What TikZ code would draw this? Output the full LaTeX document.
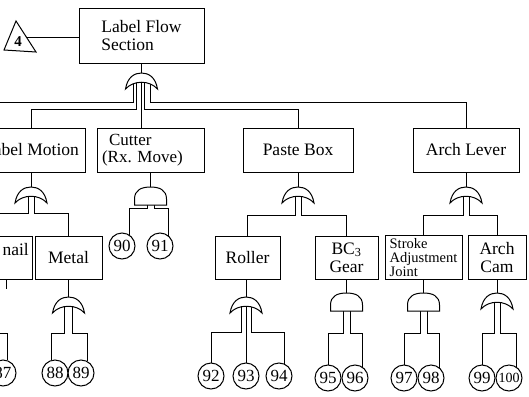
\documentclass[tikz,border=0pt]{standalone}
\usepackage{fontspec}
\setmainfont{Liberation Serif}
\usetikzlibrary{calc}
\tikzset{
  box/.style={draw, line width=1pt, inner sep=0pt, font=\fontsize{17.5}{18}\selectfont},
  ev/.style={draw, circle, minimum size=26pt, inner sep=0pt, line width=1pt, font=\fontsize{17}{17}\selectfont},
  wire/.style={line width=1pt},
  orgate/.pic={\draw[line width=1pt, fill=white] (-16,16) .. controls (-14,4) and (-7,0) .. (0,0) .. controls (7,0) and (14,4) .. (16,16) .. controls (8,7) and (-8,7) .. (-16,16) -- cycle;},
  andgate/.pic={\draw[line width=1pt, fill=white] (-16,18) -- (-16,12) .. controls (-16,3) and (-9,0) .. (0,0) .. controls (9,0) and (16,3) .. (16,12) -- (16,18) -- cycle;},
}
\begin{document}
\begin{tikzpicture}[x=1pt,y=-1pt]
\useasboundingbox (0,0) rectangle (529,396);
\clip (0,0) rectangle (529,396);

% top event
\node[box, minimum width=125pt, minimum height=54pt, align=left, font=\fontsize{17.5}{18}\selectfont] (tf) at (141.5,36) {Label Flow\\Section};
\draw[wire] (16,21) -- (36,52) -- (4,50) -- cycle;
\node[font=\bfseries\fontsize{15}{15}\selectfont] (t4) at (18,42) {4};
\coordinate (triR) at (27,38);
\draw[wire] (triR) -- (triR -| tf.west);

% level 2 boxes
\node[box, minimum width=108pt, minimum height=44pt] (lm) at (31,150) {Label Motion};
\node[box, minimum width=107pt, minimum height=44pt, align=left, text width=97pt, font=\fontsize{17}{16.5}\selectfont] (cut) at (150.5,150) {\hspace*{7pt}Cutter\\(Rx.\ Move)};
\node[box, minimum width=110pt, minimum height=44pt] (paste) at (298,150) {Paste Box};
\node[box, minimum width=106pt, minimum height=44pt] (arch) at (466,150) {Arch Lever};

% level 3 boxes
\node[box, minimum width=84pt, minimum height=43pt] (nail) at (-10,257.5) {};
\node[font=\fontsize{17.5}{17.5}\selectfont, anchor=east, inner sep=0pt] (nailtxt) at (29,250) {nail};
\node[box, minimum width=67pt, minimum height=43pt] (metal) at (68.5,257.5) {Metal};
\node[box, minimum width=65pt, minimum height=43pt] (roller) at (247.5,257.5) {Roller};
\node[box, minimum width=63pt, minimum height=43pt, align=center, font=\fontsize{17.5}{18}\selectfont] (bc3) at (346.5,257.5) {BC\textsubscript{3}\\Gear};
\node[box, minimum width=77pt, minimum height=44pt, align=left, font=\fontsize{14.5}{14}\selectfont] (stroke) at (423.5,257.5) {Stroke\\Adjustment\\Joint};
\node[box, minimum width=58pt, minimum height=44pt, align=center, font=\fontsize{17.5}{18}\selectfont] (cam) at (497,257.5) {Arch\\Cam};

% basic events
\node[ev] (c90) at (122,246) {90};
\node[ev] (c91) at (160,246) {91};
\node[ev] (c87) at (3,373) {87};
\node[ev] (c88) at (55,373) {88};
\node[ev] (c89) at (81,373) {89};
\node[ev] (c92) at (211,376) {92};
\node[ev] (c93) at (246,376) {93};
\node[ev] (c94) at (279,376) {94};
\node[ev] (c95) at (328,378) {95};
\node[ev] (c96) at (355,378) {96};
\node[ev] (c97) at (404,378) {97};
\node[ev] (c98) at (431,378) {98};
\node[ev] (c99) at (482,378) {99};
\node[ev, font=\fontsize{14}{14}\selectfont] (c100) at (509,378) {100};

% gate positions
\coordinate (g0) at (141.5,73);
\coordinate (glm) at (31,187);
\coordinate (gcut) at (150.5,187);
\coordinate (gpaste) at (298,187);
\coordinate (garch) at (466,187);
\coordinate (gmetal) at (68.5,297);
\coordinate (groller) at (246,297);
\coordinate (gbc3) at (346.5,293);
\coordinate (gstroke) at (423.5,293);
\coordinate (gcam) at (497,293);
\coordinate (offA) at (-10,102);
\coordinate (offB) at (-10,213);
\coordinate (offC) at (-10,333);
\coordinate (nailstub) at (6,289);

% stems
\draw[wire] (tf.south) -- (g0);
\draw[wire] (lm.south) -- (glm);
\draw[wire] (cut.south) -- (gcut);
\draw[wire] (paste.south) -- (gpaste);
\draw[wire] (arch.south) -- (garch);
\draw[wire] (metal.south) -- (gmetal);
\draw[wire] (roller.south -| groller) -- (groller);
\draw[wire] (bc3.south) -- (gbc3);
\draw[wire] (stroke.south) -- (gstroke);
\draw[wire] (cam.south) -- (gcam);
\draw[wire] (nailstub |- nail.south) -- (nailstub);

% top gate inputs
\draw[wire] ($(g0)+(-8,8)$) |- (offA);
\draw[wire] ($(g0)+(-5,8)$) -- ++(0,28) -| (lm.north);
\draw[wire] (g0) -- (g0 |- cut.north);
\draw[wire] ($(g0)+(3,8)$) -- ++(0,28) -| (paste.north);
\draw[wire] ($(g0)+(9,8)$) -- ++(0,21) -| (arch.north);

% level 2 gate inputs
\draw[wire] ($(glm)+(-3,8)$) |- (offB);
\draw[wire] ($(glm)+(3,8)$) -- ++(0,18) -| (metal.north);
\draw[wire] ($(gcut)+(-3,10)$) -- ++(0,11) -| (c90.56);
\draw[wire] ($(gcut)+(4,10)$) -- ++(0,11) -| (c91.50);
\draw[wire] ($(gpaste)+(-3,8)$) -- ++(0,20) -| (roller.north);
\draw[wire] ($(gpaste)+(3,8)$) -- ++(0,20) -| (bc3.north);
\draw[wire] ($(garch)+(-3,8)$) -- ++(0,20) -| (stroke.north);
\draw[wire] ($(garch)+(3,8)$) -- ++(0,20) -| (cam.north);

% level 3 gate inputs
\draw[wire] (offC) -| (c87.71);
\draw[wire] ($(gmetal)+(-4,8)$) -- ++(0,28) -| (c88.104);
\draw[wire] ($(gmetal)+(4,8)$) -- ++(0,28) -| (c89.61);
\draw[wire] ($(groller)+(-5,8)$) -- ++(0,27) -| (c92.north);
\draw[wire] (groller) -- (c93.north);
\draw[wire] ($(groller)+(5,8)$) -- ++(0,27) -| (c94.66);
\draw[wire] ($(gbc3)+(-3,10)$) -- ++(0,30) -| (c95.north);
\draw[wire] ($(gbc3)+(4,10)$) -- ++(0,30) -| (c96.56);
\draw[wire] ($(gstroke)+(-3,10)$) -- ++(0,30) -| (c97.north);
\draw[wire] ($(gstroke)+(4,10)$) -- ++(0,30) -| (c98.50);
\draw[wire] ($(gcam)+(-3,8)$) -- ++(0,32) -| (c99.north);
\draw[wire] ($(gcam)+(3,8)$) -- ++(0,32) -| (c100.56);

% gates
\pic at (g0) {orgate};
\pic at (glm) {orgate};
\pic at (gcut) {andgate};
\pic at (gpaste) {orgate};
\pic at (garch) {orgate};
\pic at (gmetal) {orgate};
\pic at (groller) {orgate};
\pic at (gbc3) {andgate};
\pic at (gstroke) {andgate};
\pic at (gcam) {orgate};
\end{tikzpicture}
\end{document}
